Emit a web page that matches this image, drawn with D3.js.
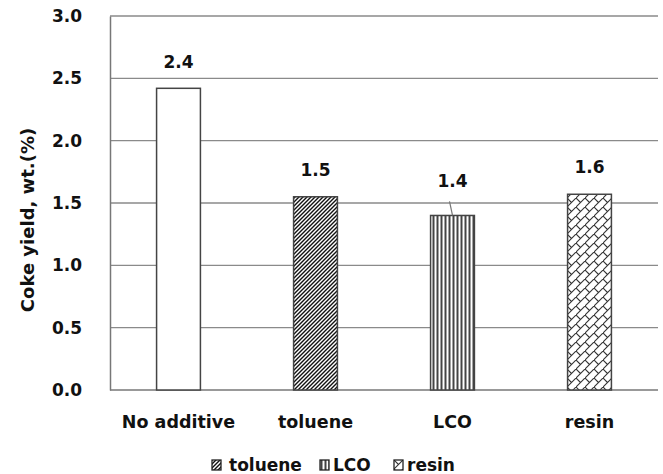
<!DOCTYPE html>
<html><head><meta charset="utf-8">
<script src="https://cdn.jsdelivr.net/npm/d3@7"></script>
<style>body{margin:0;background:#fff}svg{display:block}text{font-family:"DejaVu Sans",sans-serif;font-weight:bold;fill:#111}</style>
</head><body><svg id="c" width="663" height="474"></svg>
<script>
const categories = ["No additive", "toluene", "LCO", "resin"];
const values = [2.42, 1.55, 1.40, 1.57];
const valueLabels = ["2.4", "1.5", "1.4", "1.6"];
const patterns = ["none", "diag", "vert", "brick"];
const yTicks = [0, 0.5, 1.0, 1.5, 2.0, 2.5, 3.0];
const legendItems = ["toluene", "LCO", "resin"];
const legendPatterns = ["diag", "vert", "brick"];

const svg = d3.select("#c");
const m = {l:110, r:5, t:16, b:84};
const W = 663, H = 474;
const x = d3.scaleBand().domain(categories).range([m.l, W - m.r]).paddingInner(0.68).paddingOuter(0.34);
const y = d3.scaleLinear().domain([0, 3]).range([H - m.b, m.t]);

const defs = svg.append("defs");
const pd = defs.append("pattern").attr("id","diag").attr("patternUnits","userSpaceOnUse").attr("width",4).attr("height",4);
pd.append("rect").attr("width",4).attr("height",4).attr("fill","#fff");
pd.append("path").attr("d","M-1,1 l2,-2 M0,4 l4,-4 M3,5 l2,-2").attr("stroke","#111").attr("stroke-width",1.4);
const pv = defs.append("pattern").attr("id","vert").attr("patternUnits","userSpaceOnUse").attr("width",4).attr("height",4).attr("x",0.5);
pv.append("rect").attr("width",4).attr("height",4).attr("fill","#fff");
pv.append("rect").attr("width",2).attr("height",4).attr("fill","#444");
const pb = defs.append("pattern").attr("id","brick").attr("patternUnits","userSpaceOnUse").attr("width",9).attr("height",9);
pb.append("rect").attr("width",9).attr("height",9).attr("fill","#fff");
pb.append("path").attr("d","M-1,10 L10,-1 M0,0 L4.5,4.5").attr("stroke","#333").attr("stroke-width",1.1);

// grid
svg.append("g").selectAll("line").data(yTicks.filter(d=>d>0)).join("line")
  .attr("x1", m.l).attr("x2", W - m.r).attr("y1", d=>y(d)).attr("y2", d=>y(d))
  .attr("stroke","#8a8a8a").attr("stroke-width",1.3);

// y axis
const ya = svg.append("g").attr("transform",`translate(${m.l},0)`).call(d3.axisLeft(y).tickValues(yTicks).tickFormat(d3.format(".1f")).tickSize(0).tickPadding(28));
ya.select(".domain").attr("stroke","#777").attr("stroke-width",1.5);
ya.selectAll("text").attr("font-size",17).style("font-family",'"DejaVu Sans",sans-serif').style("font-weight","bold").attr("fill","#111");

// bottom axis line
svg.append("line").attr("x1",m.l).attr("x2",W-m.r).attr("y1",y(0)).attr("y2",y(0)).attr("stroke","#777").attr("stroke-width",1.5);

// bars
svg.append("g").selectAll("rect").data(values).join("rect")
  .attr("x",(d,i)=>x(categories[i])).attr("width",x.bandwidth())
  .attr("y",d=>y(d)).attr("height",d=>y(0)-y(d))
  .attr("fill",(d,i)=>patterns[i]==="none"?"#fff":`url(#${patterns[i]})`)
  .attr("stroke","#444").attr("stroke-width",1.5);

// value labels
const labOff = [20, 21, 28, 21];
svg.append("g").selectAll("text").data(values).join("text")
  .attr("x",(d,i)=>x(categories[i])+x.bandwidth()/2)
  .attr("y",(d,i)=>y(d)-labOff[i])
  .attr("text-anchor","middle").attr("font-size",17).text((d,i)=>valueLabels[i]);
// leader line for LCO
svg.append("line").attr("x1",x("LCO")+x.bandwidth()/2-3).attr("y1",y(values[2])-14)
  .attr("x2",x("LCO")+x.bandwidth()/2).attr("y2",y(values[2])).attr("stroke","#777").attr("stroke-width",1.2);

// category labels
svg.append("g").selectAll("text").data(categories).join("text")
  .attr("x",d=>x(d)+x.bandwidth()/2).attr("y",428)
  .attr("text-anchor","middle").attr("font-size",17.5).text(d=>d);

// y title
svg.append("text").attr("transform","translate(34,220) rotate(-90)").attr("text-anchor","middle").attr("font-size",18).text("Coke yield, wt.(%)");

// legend
const lg = svg.append("g");
const lx = [212, 320, 394];
const ltx = [17, 13, 13];
legendItems.forEach((t,i)=>{
  const g = lg.append("g").attr("transform",`translate(${lx[i]},460)`);
  g.append("rect").attr("width",9).attr("height",10).attr("fill",`url(#${legendPatterns[i]})`).attr("stroke","#222").attr("stroke-width",1.3);
  g.append("text").attr("x",ltx[i]).attr("y",11).attr("font-size",17).text(t);
});
</script></body></html>
